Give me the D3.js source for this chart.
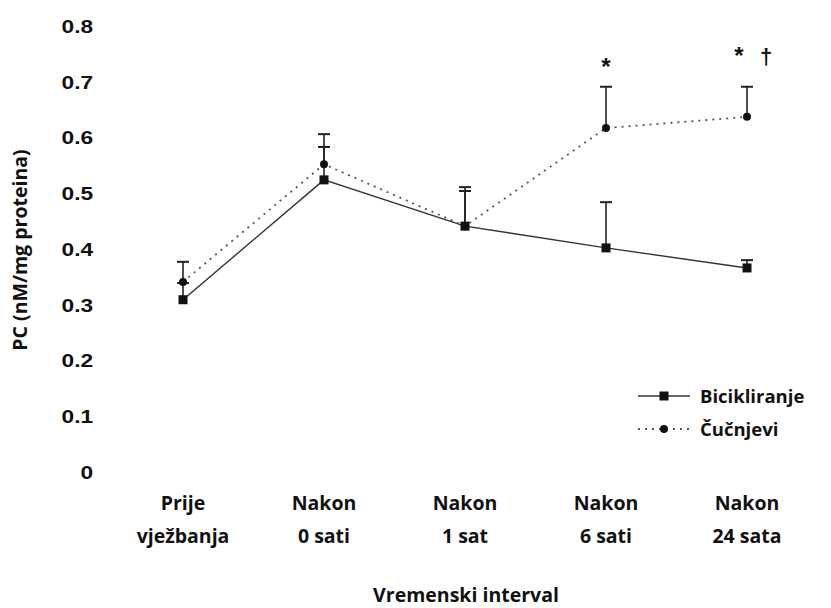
<!DOCTYPE html>
<html><head><meta charset="utf-8">
<script src="https://cdn.jsdelivr.net/npm/d3@7"></script>
<style>
body{margin:0;background:#fff;}
svg{display:block;}
</style></head>
<body>
<svg id="chart" width="831" height="608"></svg>
<script>
// ---- data ----
const categories = [["Prije","vježbanja"],["Nakon","0 sati"],["Nakon","1 sat"],["Nakon","6 sati"],["Nakon","24 sata"]];
const yTicks = [0,0.1,0.2,0.3,0.4,0.5,0.6,0.7,0.8];
const yTickLabels = ["0","0.1","0.2","0.3","0.4","0.5","0.6","0.7","0.8"];
const bicikliranje = [0.309,0.524,0.441,0.402,0.366];
const bicikliranjeErr = [0.030,0.059,0.070,0.082,0.014];
const cucnjevi = [0.341,0.552,0.441,0.617,0.637];
const cucnjeviErr = [0.036,0.054,0.063,0.074,0.054];
const seriesNames = ["Bicikliranje","Čučnjevi"];
const annotations = [[],[],[],["*"],["*","†"]];
const yTitle = "PC (nM/mg proteina)";
const xTitle = "Vremenski interval";

// ---- drawing ----
const svg = d3.select("#chart");
const x = d3.scalePoint().domain(d3.range(categories.length)).range([183,747]);
const y = d3.scaleLinear().domain([0,0.8]).range([472,26]);

const labelFont = "'Open Sans', sans-serif";

// y axis
const yAxis = svg.append("g").attr("transform","translate(97,0)")
  .call(d3.axisLeft(y).tickValues(yTicks).tickSize(0).tickPadding(3)
        .tickFormat((d,i)=>yTickLabels[i]));
yAxis.select(".domain").remove();
yAxis.selectAll("text")
  .attr("font-family","'Liberation Sans', Arial, sans-serif")
  .attr("font-weight","bold").attr("font-size",17.5).attr("fill","#111")
  .attr("dy","0.36em")
  .attr("transform","scale(1.3,1)");

// x category labels
const xl = svg.append("g");
categories.forEach((c,i)=>{
  const t = xl.append("text").attr("text-anchor","middle")
    .attr("font-family",labelFont).attr("font-weight","bold")
    .attr("font-size",19.5).attr("fill","#111");
  t.append("tspan").attr("x",x(i)).attr("y",510).text(c[0]);
  t.append("tspan").attr("x",x(i)).attr("y",543).text(c[1]);
});

// titles
svg.append("text").attr("x",466).attr("y",602).attr("text-anchor","middle")
  .attr("font-family",labelFont).attr("font-weight","bold").attr("font-size",19.5)
  .attr("fill","#111").text(xTitle);
svg.append("text").attr("transform","translate(27,250) rotate(-90)").attr("text-anchor","middle")
  .attr("font-family",labelFont).attr("font-weight","bold").attr("font-size",19.5)
  .attr("fill","#111").text(yTitle);

// lines
const line = d3.line().x((d,i)=>x(i)).y(d=>y(d));
svg.append("path").datum(bicikliranje).attr("d",line).attr("fill","none")
  .attr("stroke","#333").attr("stroke-width",1.4);
svg.append("path").datum(cucnjevi).attr("d",line).attr("fill","none")
  .attr("stroke","#555").attr("stroke-width",1.8).attr("stroke-dasharray","2,5");

// error bars (upper only)
function errBars(vals, errs){
  const g = svg.append("g").attr("stroke","#222");
  vals.forEach((v,i)=>{
    g.append("line").attr("x1",x(i)).attr("x2",x(i)).attr("y1",y(v)).attr("y2",y(v+errs[i]))
      .attr("stroke-width",1.6);
    g.append("line").attr("x1",x(i)-6).attr("x2",x(i)+6).attr("y1",y(v+errs[i])).attr("y2",y(v+errs[i]))
      .attr("stroke-width",2);
  });
}
errBars(cucnjevi, cucnjeviErr);
errBars(bicikliranje, bicikliranjeErr);

// markers
svg.append("g").selectAll("circle").data(cucnjevi).join("circle")
  .attr("cx",(d,i)=>x(i)).attr("cy",d=>y(d)).attr("r",4).attr("fill","#111");
svg.append("g").selectAll("rect").data(bicikliranje).join("rect")
  .attr("x",(d,i)=>x(i)-4.5).attr("y",d=>y(d)-4.5).attr("width",9).attr("height",9).attr("fill","#111");

// significance marks
annotations.forEach((marks,i)=>{
  const top = y(cucnjevi[i]+cucnjeviErr[i]);
  marks.forEach((m,j)=>{
    const off = marks.length===1 ? 0 : (j===0 ? -8 : 19);
    const lift = marks.length===1 ? 12 : 23;
    svg.append("text").attr("x",x(i)+off).attr("y", top-lift)
      .attr("text-anchor","middle").attr("font-family","'Liberation Sans', Arial, sans-serif")
      .attr("font-weight","bold").attr("font-size",m==="*"?24:22).attr("fill","#111").text(m);
  });
});

// legend
const lg = svg.append("g");
[0,1].forEach(k=>{
  const ly = 396 + k*33;
  lg.append("line").attr("x1",638).attr("x2",690).attr("y1",ly).attr("y2",ly)
    .attr("stroke", k===0?"#333":"#555").attr("stroke-width",k===0?1.4:1.8)
    .attr("stroke-dasharray",k===0?null:"2,5");
  if(k===0) lg.append("rect").attr("x",659.5).attr("y",ly-4.5).attr("width",9).attr("height",9).attr("fill","#111");
  else lg.append("circle").attr("cx",664).attr("cy",ly).attr("r",4).attr("fill","#111");
  lg.append("text").attr("x",700).attr("y",ly+7).attr("font-family",labelFont)
    .attr("font-weight","bold").attr("font-size",18.5).attr("fill","#111").text(seriesNames[k]);
});
</script>
</body></html>
